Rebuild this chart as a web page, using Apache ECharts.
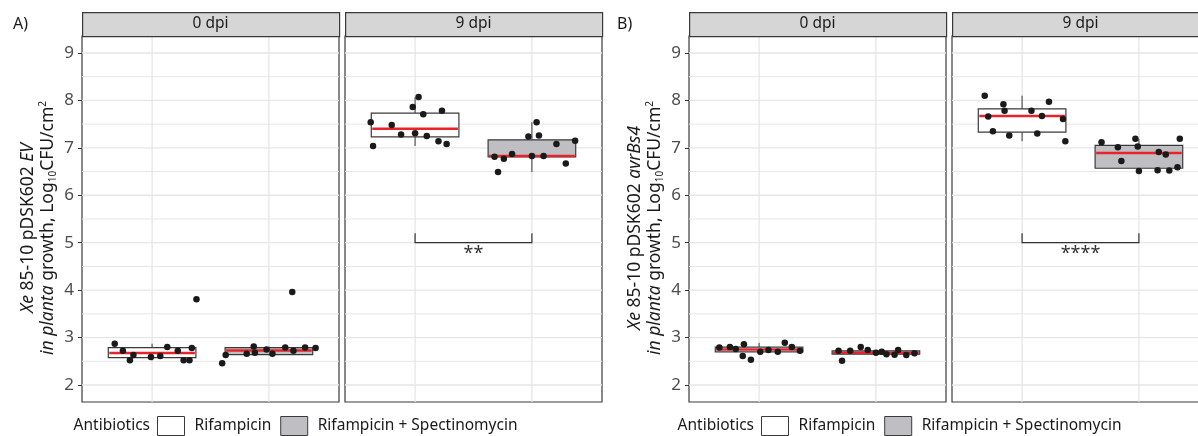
<!DOCTYPE html>
<html>
<head>
<meta charset="utf-8">
<script src="https://cdn.jsdelivr.net/npm/echarts@6/dist/echarts.min.js"></script>
<style>
  html, body { margin: 0; padding: 0; background: #ffffff; }
  #chart { width: 1198px; height: 436px; }
</style>
</head>
<body>
<div id="chart"></div>
<script>
// ---- data -------------------------------------------------------------
const facets = ['0 dpi', '9 dpi'];
const treatments = ['Rifampicin', 'Rifampicin + Spectinomycin'];
const yTicks = [2, 3, 4, 5, 6, 7, 8, 9];
const yMinor = [2.5, 3.5, 4.5, 5.5, 6.5, 7.5, 8.5];

// box statistics: [lower whisker, Q1, median, Q3, upper whisker]
// panel A: Xe 85-10 pDSK602 EV
const evBox0Rif  = [2.52, 2.576, 2.675, 2.787, 2.87];
const evBox0Spc  = [2.63, 2.64, 2.73, 2.79, 2.81];
const evBox9Rif  = [7.04, 7.23, 7.40, 7.73, 8.07];
const evBox9Spc  = [6.49, 6.81, 6.83, 7.17, 7.54];
// panel B: Xe 85-10 pDSK602 avrBs4
const avrBox0Rif = [2.70, 2.70, 2.75, 2.80, 2.89];
const avrBox0Spc = [2.64, 2.65, 2.68, 2.72, 2.74];
const avrBox9Rif = [7.14, 7.33, 7.67, 7.82, 8.10];
const avrBox9Spc = [6.51, 6.57, 6.89, 7.05, 7.19];

// individual leaves (log10 CFU/cm2) and their horizontal jitter
const evPts0Rif  = [2.87, 2.72, 2.63, 2.52, 2.59, 2.61, 2.80, 2.72, 2.52, 2.52, 2.78, 3.81];
const evJit0Rif  = [-0.32, -0.25, -0.16, -0.19, -0.01, 0.07, 0.13, 0.22, 0.27, 0.32, 0.34, 0.38];
const evPts0Spc  = [2.46, 2.63, 2.66, 2.81, 2.68, 2.75, 2.66, 2.79, 2.72, 2.79, 2.78, 3.96];
const evJit0Spc  = [-0.40, -0.37, -0.19, -0.13, -0.12, -0.02, 0.03, 0.14, 0.21, 0.31, 0.40, 0.20];
const evPts9Rif  = [7.54, 7.04, 7.48, 7.28, 7.86, 7.31, 8.07, 7.71, 7.25, 7.14, 7.78, 7.08];
const evJit9Rif  = [-0.38, -0.36, -0.20, -0.12, -0.02, 0.00, 0.03, 0.07, 0.10, 0.20, 0.23, 0.27];
const evPts9Spc  = [6.81, 6.49, 6.77, 6.87, 7.24, 6.83, 7.54, 7.26, 6.83, 7.08, 6.67, 7.15];
const evJit9Spc  = [-0.32, -0.29, -0.24, -0.17, -0.03, 0.00, 0.04, 0.06, 0.10, 0.21, 0.29, 0.37];
const avrPts0Rif = [2.79, 2.80, 2.76, 2.86, 2.61, 2.53, 2.70, 2.74, 2.70, 2.89, 2.80, 2.72];
const avrJit0Rif = [-0.34, -0.25, -0.20, -0.13, -0.14, -0.07, 0.01, 0.08, 0.16, 0.22, 0.28, 0.35];
const avrPts0Spc = [2.72, 2.51, 2.72, 2.80, 2.74, 2.68, 2.70, 2.65, 2.64, 2.74, 2.63, 2.67];
const avrJit0Spc = [-0.32, -0.29, -0.22, -0.13, -0.07, 0.00, 0.05, 0.09, 0.16, 0.19, 0.26, 0.33];
const avrPts9Rif = [8.10, 7.66, 7.35, 7.92, 7.78, 7.26, 7.78, 7.30, 7.67, 7.97, 7.61, 7.14];
const avrJit9Rif = [-0.32, -0.29, -0.25, -0.16, -0.15, -0.11, 0.08, 0.13, 0.17, 0.23, 0.35, 0.37];
const avrPts9Spc = [7.12, 7.01, 6.72, 7.19, 7.03, 6.51, 6.53, 6.91, 6.86, 6.52, 6.59, 7.19];
const avrJit9Spc = [-0.32, -0.18, -0.15, -0.03, -0.01, 0.00, 0.16, 0.17, 0.23, 0.26, 0.33, 0.35];

// significance bracket at 9 dpi: [from group, to group, tip height, bar height]
const evBracket  = [1, 2, 5.2, 5.0];
const avrBracket = [1, 2, 5.2, 5.0];
const evStars  = '**';
const avrStars = '****';

// ---- layout & style ---------------------------------------------------
const FONT = "'Noto Sans', 'DejaVu Sans', sans-serif";
const INK = '#1a1a1a';
const BORDER = '#3a3a3a';
const GRID_LINE = '#e6e6e6';
const FILLS = ['#ffffff', '#bfbfc3'];
const MEDIAN = '#e8232b';
const BOX_W = 0.75;
const PANEL_TOP = 36, PANEL_H = 366, FACET_W = 257, STRIP_H = 24;
const Y_MIN = 1.6416, Y_MAX = 9.358;

const panels = [
  {
    tag: 'A)', tagX: 13, strain: 'EV', lefts: [82, 345],
    boxes: [[evBox0Rif, evBox0Spc], [evBox9Rif, evBox9Spc]],
    pts: [[evPts0Rif, evPts0Spc], [evPts9Rif, evPts9Spc]],
    jit: [[evJit0Rif, evJit0Spc], [evJit9Rif, evJit9Spc]],
    bracket: evBracket, stars: evStars, legendLeft: 157
  },
  {
    tag: 'B)', tagX: 617, strain: 'avrBs4', lefts: [689, 952],
    boxes: [[avrBox0Rif, avrBox0Spc], [avrBox9Rif, avrBox9Spc]],
    pts: [[avrPts0Rif, avrPts0Spc], [avrPts9Rif, avrPts9Spc]],
    jit: [[avrJit0Rif, avrJit0Spc], [avrJit9Rif, avrJit9Spc]],
    bracket: avrBracket, stars: avrStars, legendLeft: 761
  }
];

function renderBox(params, api) {
  const x = api.value(0);
  const lo = api.value(1), q1 = api.value(2), med = api.value(3), q3 = api.value(4), hi = api.value(5);
  const tl = api.coord([x - BOX_W / 2, q3]);
  const br = api.coord([x + BOX_W / 2, q1]);
  const m = api.coord([x, med]);
  const top = api.coord([x, hi]);
  const bot = api.coord([x, lo]);
  return {
    type: 'group',
    children: [
      { type: 'line', shape: { x1: top[0], y1: top[1], x2: top[0], y2: tl[1] }, style: { stroke: BORDER, lineWidth: 1 } },
      { type: 'line', shape: { x1: bot[0], y1: br[1], x2: bot[0], y2: bot[1] }, style: { stroke: BORDER, lineWidth: 1 } },
      { type: 'rect', shape: { x: tl[0], y: tl[1], width: br[0] - tl[0], height: br[1] - tl[1] },
        style: { fill: api.visual('color'), stroke: BORDER, lineWidth: 1.2 } },
      { type: 'line', shape: { x1: tl[0] + 1, y1: m[1], x2: br[0] - 1, y2: m[1] }, style: { stroke: MEDIAN, lineWidth: 2.5 } }
    ]
  };
}

function renderGridLines(params, api) {
  const cs = params.coordSys;
  const kind = api.value(0), v = api.value(1);
  if (kind === 0) {
    const p = api.coord([1, v]);
    return { type: 'line', shape: { x1: cs.x, y1: p[1], x2: cs.x + cs.width, y2: p[1] },
      style: { stroke: GRID_LINE, lineWidth: Number.isInteger(v) ? 1.3 : 1 } };
  }
  const p = api.coord([v, Y_MIN]);
  return { type: 'line', shape: { x1: p[0], y1: cs.y, x2: p[0], y2: cs.y + cs.height },
    style: { stroke: GRID_LINE, lineWidth: 1.3 } };
}

function makeBracketRenderer(stars) {
  return function (params, api) {
    const a = api.coord([api.value(0), api.value(2)]);
    const b = api.coord([api.value(0), api.value(3)]);
    const c = api.coord([api.value(1), api.value(3)]);
    const d = api.coord([api.value(1), api.value(2)]);
    return {
      type: 'group',
      children: [
        { type: 'polyline', shape: { points: [a, b, c, d] }, style: { stroke: '#333', lineWidth: 1.2, fill: null } },
        { type: 'text', x: (b[0] + c[0]) / 2, y: b[1] + 2,
          style: { text: stars, fontSize: 18, fontFamily: FONT, fill: '#333', align: 'center', verticalAlign: 'top' } }
      ]
    };
  };
}

const grids = [], xAxes = [], yAxes = [], series = [], graphics = [], legends = [];
let gi = 0;
panels.forEach((P) => {
  graphics.push({ type: 'text', left: P.tagX, top: 16,
    style: { text: P.tag, fontSize: 16, fontFamily: FONT, fill: INK } });
  graphics.push({ type: 'text', x: P.legendLeft - 7, y: 426,
    style: { text: 'Antibiotics', fontSize: 15.5, fontFamily: FONT, fill: INK, align: 'right', verticalAlign: 'middle' } });

  facets.forEach((facet, f) => {
    const left = P.lefts[f];
    grids.push({ left: left, top: PANEL_TOP, width: FACET_W, height: PANEL_H, outerBoundsMode: 'none',
      show: true, backgroundColor: '#ffffff', borderColor: BORDER, borderWidth: 1.2 });
    xAxes.push({ gridIndex: gi, type: 'value', min: 0.4, max: 2.6, show: false });
    const first = f === 0;
    yAxes.push({
      gridIndex: gi, type: 'value', min: Y_MIN, max: Y_MAX,
      splitLine: { show: false },
      axisLine: { show: false },
      axisTick: { show: first, length: 4, lineStyle: { color: '#333' }, customValues: yTicks },
      axisLabel: { show: first, customValues: yTicks, margin: 8, fontSize: 17, fontFamily: FONT, color: '#4d4d4d' },
      name: first ? '{i|Xe} 85-10 pDSK602 {i|' + P.strain + '}\n{i|in planta} growth, Log{sub|10}CFU/cm{sup|2}' : '',
      nameLocation: 'middle', nameRotate: 90, nameGap: 24,
      nameTextStyle: {
        fontSize: 17.5, fontFamily: FONT, color: INK, lineHeight: 20, padding: [0, 18, 0, 0],
        rich: {
          i: { fontStyle: 'italic', fontSize: 17.5, fontFamily: FONT, color: INK, lineHeight: 20 },
          sub: { fontSize: 10, fontFamily: FONT, color: INK, verticalAlign: 'bottom', lineHeight: 12 },
          sup: { fontSize: 10, fontFamily: FONT, color: INK, verticalAlign: 'top', lineHeight: 10 }
        }
      }
    });

    // facet strip
    graphics.push({ type: 'rect', left: left, top: PANEL_TOP - STRIP_H, z: 10,
      shape: { width: FACET_W, height: STRIP_H },
      style: { fill: '#d6d6d6', stroke: BORDER, lineWidth: 1.2 } });
    graphics.push({ type: 'text', z: 11, x: left + FACET_W / 2, y: PANEL_TOP - STRIP_H / 2,
      style: { text: facet, fontSize: 15.5, fontFamily: FONT, fill: INK, align: 'center', verticalAlign: 'middle' } });

    // panel grid lines
    const gl = yTicks.map(v => [0, v]).concat(yMinor.map(v => [0, v]), [[1, 1], [1, 2]]);
    series.push({ type: 'custom', xAxisIndex: gi, yAxisIndex: gi, z: 1, silent: true,
      renderItem: renderGridLines, data: gl, encode: { x: -1, y: -1 } });

    treatments.forEach((t, k) => {
      const pos = k + 1;
      series.push({ type: 'custom', name: t, xAxisIndex: gi, yAxisIndex: gi, z: 2,
        itemStyle: { color: FILLS[k], borderColor: BORDER },
        renderItem: renderBox, data: [[pos].concat(P.boxes[f][k])], encode: { x: 0, y: [1, 2, 3, 4, 5] } });
      const vals = P.pts[f][k], jit = P.jit[f][k];
      series.push({ type: 'scatter', xAxisIndex: gi, yAxisIndex: gi, z: 3,
        symbolSize: 6.5, itemStyle: { color: INK, opacity: 1 },
        data: vals.map((v, i) => [pos + jit[i], v]) });
    });

    if (f === 1) {
      series.push({ type: 'custom', xAxisIndex: gi, yAxisIndex: gi, z: 4, silent: true,
        renderItem: makeBracketRenderer(P.stars), data: [P.bracket], encode: { x: [0, 1], y: [2, 3] } });
    }
    gi++;
  });

  legends.push({
    left: P.legendLeft, top: 416, padding: 0, orient: 'horizontal', icon: 'rect',
    itemWidth: 27, itemHeight: 19, itemGap: 9, selectedMode: false,
    textStyle: { fontSize: 15.5, fontFamily: FONT, color: INK, padding: [0, 0, 0, 5] },
    data: treatments.map((t, k) => ({ name: t, itemStyle: { color: FILLS[k], borderColor: BORDER, borderWidth: 1 } }))
  });
});

const chart = echarts.init(document.getElementById('chart'), null, { renderer: 'canvas' });
chart.setOption({
  animation: false,
  backgroundColor: '#ffffff',
  grid: grids, xAxis: xAxes, yAxis: yAxes, series: series, legend: legends, graphic: graphics
});
</script>
</body>
</html>
